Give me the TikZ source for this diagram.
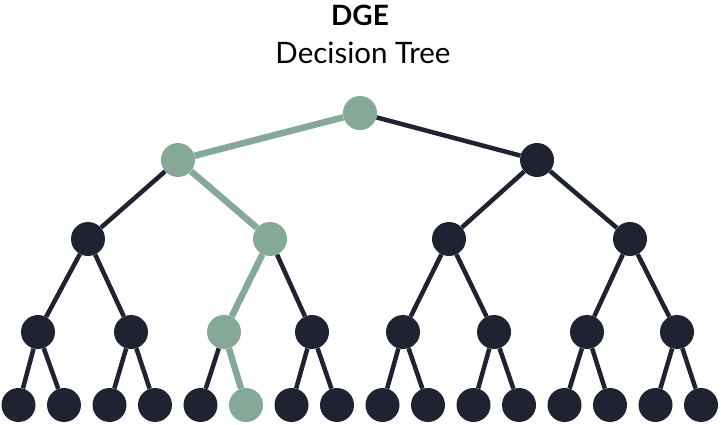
\documentclass[tikz,border=0pt]{standalone}
\usepackage{fontspec}
\setmainfont{Lato}
\usepackage{tikz}
\usetikzlibrary{positioning}

\definecolor{treedark}{HTML}{1F2230}
\definecolor{treegreen}{HTML}{86A898}

\begin{document}
\begin{tikzpicture}[
        x=1pt, y=-1pt,
        treenode/.style={
            circle, fill=treedark, draw=none,
            minimum size=34pt, inner sep=0pt
        },
        pathnode/.style={treenode, fill=treegreen},
        edge/.style={draw=treedark, line width=4.5pt},
        pathedge/.style={draw=treegreen, line width=6.5pt}
    ]
        \useasboundingbox (0,0) rectangle (721,425);

        % titles
        \node[anchor=base, font=\fontsize{28}{32}\selectfont\bfseries] (title) at (360,26) {DGE};
        \node[anchor=base, font=\fontsize{29.5}{34}\selectfont] (subtitle) at (363,63.5) {Decision Tree};

        % levels 0 to 2
        \node[pathnode] (root) at (360,113) {};
        \node[pathnode] (l1a) at (178,160) {};
        \node[treenode] (l1b) at (537,160) {};
        \node[treenode] (l2a) at (88,239) {};
        \node[pathnode] (l2b) at (270,239) {};
        \node[treenode] (l2c) at (449,239) {};
        \node[treenode] (l2d) at (630,239) {};

        % level 3
        \node[treenode] (l3a) at (38,332) {};
        \node[treenode] (l3b) at (131,332) {};
        \node[pathnode] (l3c) at (224,332) {};
        \node[treenode] (l3d) at (312,332) {};
        \node[treenode] (l3e) at (403,332) {};
        \node[treenode] (l3f) at (494,332) {};
        \node[treenode] (l3g) at (587,332) {};
        \node[treenode] (l3h) at (677,332) {};

        % leaves
        \node[treenode] (lf1) at (18.5,405) {};
        \node[treenode] (lf2) at (64,405) {};
        \node[treenode] (lf3) at (109.5,405) {};
        \node[treenode] (lf4) at (155,405) {};
        \node[treenode] (lf5) at (200.5,405) {};
        \node[pathnode] (lf6) at (246,405) {};
        \node[treenode] (lf7) at (291.5,405) {};
        \node[treenode] (lf8) at (337,405) {};
        \node[treenode] (lf9) at (382.5,405) {};
        \node[treenode] (lf10) at (428,405) {};
        \node[treenode] (lf11) at (473.5,405) {};
        \node[treenode] (lf12) at (519,405) {};
        \node[treenode] (lf13) at (564.5,405) {};
        \node[treenode] (lf14) at (610,405) {};
        \node[treenode] (lf15) at (655.5,405) {};
        \node[treenode] (lf16) at (701,405) {};

        % dark branches
        \draw[edge] (root) -- (l1b);
        \draw[edge] (l1a) -- (l2a);
        \draw[edge] (l1b) -- (l2c);
        \draw[edge] (l1b) -- (l2d);
        \draw[edge] (l2a) -- (l3a);
        \draw[edge] (l2a) -- (l3b);
        \draw[edge] (l2b) -- (l3d);
        \draw[edge] (l2c) -- (l3e);
        \draw[edge] (l2c) -- (l3f);
        \draw[edge] (l2d) -- (l3g);
        \draw[edge] (l2d) -- (l3h);
        \draw[edge] (l3a) -- (lf1);
        \draw[edge] (l3a) -- (lf2);
        \draw[edge] (l3b) -- (lf3);
        \draw[edge] (l3b) -- (lf4);
        \draw[edge] (l3c) -- (lf5);
        \draw[edge] (l3d) -- (lf7);
        \draw[edge] (l3d) -- (lf8);
        \draw[edge] (l3e) -- (lf9);
        \draw[edge] (l3e) -- (lf10);
        \draw[edge] (l3f) -- (lf11);
        \draw[edge] (l3f) -- (lf12);
        \draw[edge] (l3g) -- (lf13);
        \draw[edge] (l3g) -- (lf14);
        \draw[edge] (l3h) -- (lf15);
        \draw[edge] (l3h) -- (lf16);

        % decision path
        \draw[pathedge] (root) -- (l1a);
        \draw[pathedge] (l1a) -- (l2b);
        \draw[pathedge] (l2b) -- (l3c);
        \draw[pathedge] (l3c) -- (lf6);
    \end{tikzpicture}
\end{document}
